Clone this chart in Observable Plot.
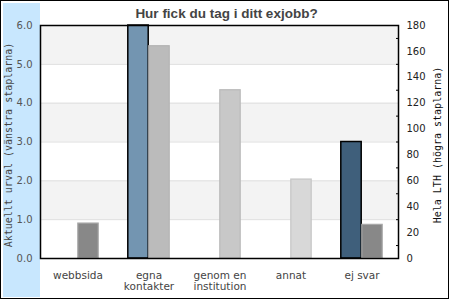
<!DOCTYPE html>
<html>
<head>
<meta charset="utf-8">
<script src="https://cdn.jsdelivr.net/npm/d3@7"></script>
<script src="https://cdn.jsdelivr.net/npm/@observablehq/plot@0.6"></script>
<style>
  html, body { margin: 0; padding: 0; background: white; }
  #wrap { position: relative; width: 450px; height: 300px; background: white; overflow: hidden; }
  #panel { position: absolute; left: 3px; top: 3px; width: 37px; height: 294px; background: #c8e7fe; }
  #border { position: absolute; left: 0; top: 0; width: 449px; height: 299px; box-sizing: border-box; border: 1px solid black; pointer-events: none; }
  #wrap svg { position: absolute; left: 0; top: 0; }
</style>
</head>
<body>
<div id="wrap"><div id="panel"></div></div>
<script>
// ---- data ----
const categories = ["webbsida", "egna kontakter", "genom en institution", "annat", "ej svar"];
const categoryLabels = ["webbsida", "egna\nkontakter", "genom en\ninstitution", "annat", "ej svar"];
const aktuelltUrval = [0, 6, 0, 0, 3];          // left axis (0–6)
const helaLTH = [27, 164, 130, 61, 26];          // right axis (0–180)
const leftTicks = [0, 1, 2, 3, 4, 5, 6];
const rightTicks = [0, 20, 40, 60, 80, 100, 120, 140, 160, 180];
const rightMinorTicks = [10, 30, 50, 70, 90, 110, 130, 150, 170];
const bandRanges = [[1, 2], [3, 4], [5, 6]];
const gridValues = [1, 2, 3, 4, 5];

const title = "Hur fick du tag i ditt exjobb?";
const leftTitle = "Aktuellt urval (vänstra staplarna)";
const rightTitle = "Hela LTH (högra staplarna)";

const leftColors = ["#7395b1", "#7395b1", "#7395b1", "#7395b1", "#3f5f7b"];
const rightFills = ["#888888", "#bbbbbb", "#c8c8c8", "#d8d8d8", "#888888"];
const rightStrokes = ["#a8a8a8", "#b3b3b3", "#b9b9b9", "#c6c6c6", "#a8a8a8"];

// ---- tables ----
const labelOf = new Map(categories.map((c, i) => [c, categoryLabels[i]]));
const leftData = categories.map((c, i) => ({cat: c, value: aktuelltUrval[i], fill: leftColors[i]})).filter(d => d.value > 0);
const rightData = categories.map((c, i) => ({cat: c, value: helaLTH[i], fill: rightFills[i], stroke: rightStrokes[i]}));
const bands = bandRanges.map(([a, b]) => ({y1: a, y2: b}));

const W = 450, H = 300;
const margins = {marginLeft: 40, marginRight: 52, marginTop: 25, marginBottom: 42};
const bw = (W - margins.marginLeft - margins.marginRight) / categories.length;
const barW = 21;
const sans = "'DejaVu Sans', sans-serif";
const mono = "'DejaVu Sans Mono', monospace";
const style = {background: "transparent", fontFamily: sans, overflow: "visible"};

const base = Plot.plot({
  width: W, height: H, ...margins, style,
  x: {type: "band", domain: categories, padding: 0},
  y: {domain: [0, 6]},
  marks: [
    Plot.rectY(bands, {y1: "y1", y2: "y2", fill: "#f3f3f3"}),
    Plot.ruleY(gridValues, {stroke: "#dedede", strokeWidth: 1}),
    Plot.barY(leftData, {x: "cat", y: "value", fill: "fill", stroke: "black", strokeWidth: 1.5,
      insetLeft: bw / 2 - barW, insetRight: bw / 2}),
    Plot.axisY({ticks: leftTicks, tickFormat: d3.format(".1f"), tickSize: 0, tickPadding: 8,
      fontSize: 10, fill: "#555", label: null}),
    Plot.axisX({tickFormat: d => labelOf.get(d), tickSize: 0, tickPadding: 13, fontSize: 10.5,
      lineHeight: 1.05, fill: "#444", label: null}),
    Plot.text([leftTitle], {frameAnchor: "left", textAnchor: "middle", lineAnchor: "middle",
      rotate: -90, dx: -32, dy: 3, fontFamily: mono, fontSize: 10, fill: "#444"})
  ]
});

const overlay = Plot.plot({
  width: W, height: H, ...margins, style,
  x: {type: "band", domain: categories, padding: 0, axis: null},
  y: {domain: [0, 180], axis: null},
  marks: [
    Plot.barY(rightData, {x: "cat", y: "value", fill: "fill", stroke: "stroke", strokeWidth: 1.2,
      insetLeft: bw / 2, insetRight: bw / 2 - barW}),
    Plot.axisY({anchor: "right", ticks: rightTicks, tickSize: 0, tickPadding: 8,
      fontSize: 10, fill: "#222", label: null}),
    Plot.axisY({anchor: "right", ticks: rightMinorTicks, tickSize: 3, dx: -3,
      tickFormat: () => "", stroke: "black", label: null}),
    Plot.frame({stroke: "black", strokeWidth: 1.5}),
    Plot.text([rightTitle], {frameAnchor: "right", textAnchor: "middle", lineAnchor: "middle",
      rotate: -90, dx: 39, dy: 3, fontFamily: mono, fontSize: 10, fill: "#111"}),
    Plot.text([title], {frameAnchor: "top", lineAnchor: "middle", dy: -12, dx: 7,
      fontFamily: "'Liberation Sans', Arial, sans-serif",
      fontWeight: "bold", fontSize: 13.5, fill: "#444"})
  ]
});

const wrap = document.getElementById("wrap");
wrap.appendChild(base);
wrap.appendChild(overlay);
const border = document.createElement("div");
border.id = "border";
wrap.appendChild(border);
</script>
</body>
</html>
